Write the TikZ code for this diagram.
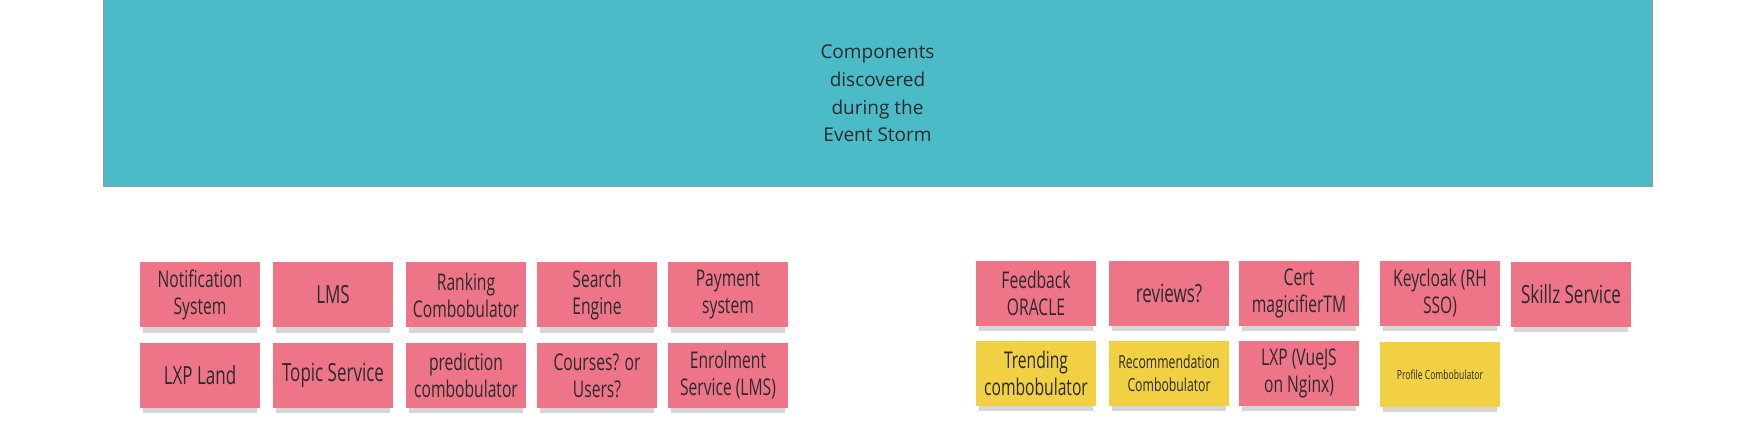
\documentclass[tikz,border=0pt]{standalone}
\usepackage{fontspec}
\setmainfont{Open Sans}
\newfontfamily\handfont[FakeStretch=0.68]{Open Sans}
\usetikzlibrary{shadows,positioning}

\definecolor{stormteal}{HTML}{4ABBC7}
\definecolor{stickypink}{HTML}{EE7588}
\definecolor{stickyyellow}{HTML}{F2D044}
\definecolor{inkgray}{HTML}{2B2B2B}

\tikzset{
	sticky/.style={rectangle, minimum width=60pt, minimum height=32.5pt, inner sep=1pt,
		align=center, text=inkgray, font=\handfont\fontsize{11.5}{13.5}\selectfont,
		drop shadow={shadow xshift=0pt, shadow yshift=-3.5pt, shadow scale=0.95,
			fill=black!40, opacity=0.4}},
	pinknote/.style={sticky, fill=stickypink},
	yellownote/.style={sticky, fill=stickyyellow},
	bignote/.style={font=\handfont\fontsize{12.5}{14}\selectfont},
}

\begin{document}
\begin{tikzpicture}[x=0.5pt,y=-0.5pt]
	\useasboundingbox (0,0) rectangle (1756,421);

	% bandeau
	\node (storm) at (877.5,93.5) [draw=gray!80, line width=0.5pt, fill=stormteal,
		minimum width=774.5pt, minimum height=93.5pt, inner sep=0pt, align=center,
		text=inkgray, font=\fontsize{9.5}{13.8}\selectfont]
		{Components\\discovered\\during the\\Event Storm};

	% post-its gauche
	\node (notif) at (200,295) [pinknote] {Notification\\System};
	\node (lms) at (333,295) [pinknote, bignote] {LMS};
	\node (ranking) at (466,295) [pinknote] {Ranking\\Combobulator};
	\node (search) at (597,295) [pinknote] {Search\\Engine};
	\node (payment) at (728,295) [pinknote] {Payment\\system};

	\node (lxpland) at (200,375.5) [pinknote, bignote] {LXP Land};
	\node (topic) at (333,375.5) [pinknote, bignote] {Topic Service};
	\node (prediction) at (466,375.5) [pinknote] {prediction\\combobulator};
	\node (courses) at (597,375.5) [pinknote] {Courses? or\\Users?};
	\node (enrolment) at (728,375.5) [pinknote] {Enrolment\\Service (LMS)};

	% post-its droite
	\node (feedback) at (1036,293.5) [pinknote] {Feedback\\ORACLE};
	\node (reviews) at (1169,293.5) [pinknote, bignote] {reviews?};
	\node (cert) at (1299,293.5) [pinknote] {Cert\\magicifierTM};
	\node (keycloak) at (1440,293.5) [pinknote] {Keycloak (RH\\SSO)};
	\node (skillz) at (1571,294.5) [pinknote, bignote] {Skillz Service};

	\node (trending) at (1036,373.5) [yellownote] {Trending\\combobulator};
	\node (recommend) at (1169,373.5) [yellownote, font=\handfont\fontsize{9}{11.5}\selectfont]
		{Recommendation\\Combobulator};
	\node (lxpvue) at (1299,373.5) [pinknote] {LXP (VueJS\\on Nginx)};
	\node (profile) at (1440,374.5) [yellownote, font=\handfont\fontsize{6.3}{8}\selectfont]
		{Profile Combobulator};
\end{tikzpicture}
\end{document}
